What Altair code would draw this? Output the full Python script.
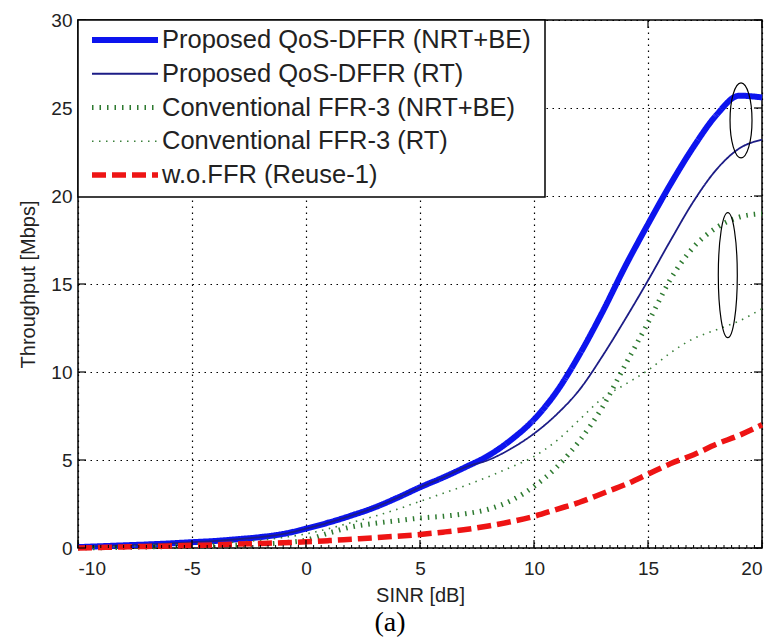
import altair as alt
import pandas as pd

# ---------------- data ----------------
SINR = list(range(-10, 21))

PROP_NRT = [0.05, 0.10, 0.15, 0.20, 0.26, 0.33, 0.40, 0.50, 0.62, 0.80,
            1.10, 1.45, 1.85, 2.30, 2.85, 3.45, 4.00, 4.60, 5.25, 6.15,
            7.30, 8.90, 11.0, 13.4, 16.0, 18.4, 20.7, 22.8, 24.6, 25.7, 25.6]
PROP_RT = [0.05, 0.10, 0.15, 0.20, 0.26, 0.33, 0.40, 0.50, 0.62, 0.80,
           1.10, 1.45, 1.85, 2.30, 2.85, 3.45, 4.00, 4.60, 5.00, 5.65,
           6.50, 7.60, 9.00, 10.9, 13.0, 15.2, 17.5, 19.7, 21.5, 22.7, 23.2]
CONV_NRT = [0.00, 0.02, 0.04, 0.06, 0.08, 0.10, 0.13, 0.17, 0.22, 0.30,
            0.45, 0.85, 1.20, 1.40, 1.55, 1.70, 1.80, 1.95, 2.20, 2.70,
            3.50, 4.60, 6.10, 8.00, 10.4, 12.8, 15.3, 17.1, 18.2, 18.8, 19.0]
CONV_RT = [0.02, 0.05, 0.08, 0.12, 0.16, 0.20, 0.26, 0.34, 0.44, 0.60,
           0.80, 1.10, 1.45, 1.80, 2.20, 2.65, 3.10, 3.55, 4.05, 4.60,
           5.20, 6.10, 7.30, 8.50, 9.30, 10.1, 11.1, 11.9, 12.4, 12.9, 13.6]
REUSE1 = [0.00, 0.03, 0.06, 0.09, 0.12, 0.15, 0.18, 0.22, 0.26, 0.30,
          0.35, 0.42, 0.50, 0.58, 0.67, 0.77, 0.90, 1.05, 1.25, 1.50,
          1.80, 2.20, 2.60, 3.10, 3.60, 4.20, 4.80, 5.30, 5.90, 6.40, 7.00]

SERIES = ["Proposed QoS-DFFR (NRT+BE)", "Proposed QoS-DFFR (RT)",
          "Conventional FFR-3 (NRT+BE)", "Conventional FFR-3 (RT)",
          "w.o.FFR (Reuse-1)"]
VALUES = [PROP_NRT, PROP_RT, CONV_NRT, CONV_RT, REUSE1]

COLORS = ["#0c14ee", "#1c1c86", "#2e7a30", "#3b803b", "#ee1414"]
WIDTHS = [6.0, 1.8, 5.0, 1.6, 5.5]
DASHES = [[1, 0], [1, 0], [1.5, 6], [1.5, 5.5], [14, 6]]

X_TICKS = [-10, -5, 0, 5, 10, 15, 20]
Y_TICKS = [0, 5, 10, 15, 20, 25, 30]
MINOR_X = [-10 + i / 3 for i in range(91)]

# annotation ellipses (centre in data units)
ELL_X = [19.08, 18.5]
ELL_Y = [24.3, 15.5]

# ---------------- tables ----------------
rows = []
for s, vals in zip(SERIES, VALUES):
    for x, v in zip(SINR, vals):
        rows.append({"series": s, "sinr": x, "thr": v})
df = pd.DataFrame(rows)

leg = pd.DataFrame({"series": SERIES,
                    "ly": [20 + 33.75 * i for i in range(len(SERIES))]})

xscale = alt.Scale(domain=[-10, 20], nice=False, zero=False)
yscale = alt.Scale(domain=[0, 30], nice=False, zero=False)

color = alt.Color("series:N", scale=alt.Scale(domain=SERIES, range=COLORS), legend=None)
dash = alt.StrokeDash("series:N", scale=alt.Scale(domain=SERIES, range=DASHES), legend=None)
width = alt.StrokeWidth("series:N",
                        scale=alt.Scale(type="ordinal", domain=SERIES, range=WIDTHS),
                        legend=None)

X = alt.X("sinr:Q", scale=xscale,
          axis=alt.Axis(values=X_TICKS, title="SINR [dB]", labelExpr="'' + datum.value",
                        labelPadding=11, titlePadding=7))
Y = alt.Y("thr:Q", scale=yscale,
          axis=alt.Axis(values=Y_TICKS, title="Throughput [Mbps]", labelPadding=6,
                        titlePadding=12))

lines = alt.Chart(df).mark_line(interpolate="monotone", strokeCap="butt").encode(
    x=X, y=Y, color=color, strokeDash=dash, strokeWidth=width,
    order=alt.Order("sinr:Q"))

ell1 = alt.Chart(pd.DataFrame({"sinr": [ELL_X[0]], "thr": [ELL_Y[0]]})).mark_point(
    shape="M 0 -1 A 0.293 1 0 1 1 0 1 A 0.293 1 0 1 1 0 -1 Z",
    size=5625, filled=False, stroke="black", strokeWidth=1.2, opacity=1
).encode(x=alt.X("sinr:Q", scale=xscale), y=alt.Y("thr:Q", scale=yscale))

ell2 = alt.Chart(pd.DataFrame({"sinr": [ELL_X[1]], "thr": [ELL_Y[1]]})).mark_point(
    shape="M 0 -1 A 0.152 1 0 1 1 0 1 A 0.152 1 0 1 1 0 -1 Z",
    size=15625, filled=False, stroke="black", strokeWidth=1.2, opacity=1
).encode(x=alt.X("sinr:Q", scale=xscale), y=alt.Y("thr:Q", scale=yscale))

tick_x = pd.DataFrame({"xv": X_TICKS})
tick_y = pd.DataFrame({"yv": Y_TICKS})
tick_m = pd.DataFrame({"xv": MINOR_X})

bottom_ticks = alt.Chart(tick_x).mark_rule(color="black", strokeWidth=1.2).encode(
    x=alt.X("xv:Q", scale=xscale), y=alt.value(528), y2=alt.value(520))
top_ticks = alt.Chart(tick_x).mark_rule(color="black", strokeWidth=1.2).encode(
    x=alt.X("xv:Q", scale=xscale), y=alt.value(0), y2=alt.value(8))
left_ticks = alt.Chart(tick_y).mark_rule(color="black", strokeWidth=1.2).encode(
    y=alt.Y("yv:Q", scale=yscale), x=alt.value(0), x2=alt.value(8))
right_ticks = alt.Chart(tick_y).mark_rule(color="black", strokeWidth=1.2).encode(
    y=alt.Y("yv:Q", scale=yscale), x=alt.value(684), x2=alt.value(676))
minor_ticks = alt.Chart(tick_m).mark_rule(color="black", strokeWidth=1).encode(
    x=alt.X("xv:Q", scale=xscale), y=alt.value(528), y2=alt.value(525))

box = alt.Chart(pd.DataFrame({"a": [0]})).mark_rect(
    fill="white", stroke="black", strokeWidth=1.5).encode(
    x=alt.value(0), x2=alt.value(467), y=alt.value(0), y2=alt.value(177))

leg_rules = alt.Chart(leg).mark_rule(strokeCap="butt").encode(
    x=alt.value(14), x2=alt.value(80),
    y=alt.Y("ly:Q", scale=None, axis=None),
    color=color, strokeDash=dash, strokeWidth=width)

leg_text = alt.Chart(leg).mark_text(
    align="left", baseline="middle", font="Liberation Sans", fontSize=25.5,
    color="#222222").encode(
    x=alt.value(84), y=alt.Y("ly:Q", scale=None, axis=None), text="series:N")

chart = alt.layer(
    lines, ell1, ell2, bottom_ticks, top_ticks, left_ticks, right_ticks, minor_ticks,
    box, leg_rules, leg_text
).properties(
    width=684, height=528,
    autosize=alt.AutoSizeParams(type="none"),
    padding={"left": 78, "top": 20, "right": 12, "bottom": 93},
    background="white",
    title=alt.TitleParams(text="(a)", orient="bottom", font="Liberation Serif",
                          fontSize=28, fontWeight="normal", color="black",
                          offset=4, dx=-30, anchor="middle"),
).configure_view(
    stroke="black", strokeWidth=1.5
).configure_axis(
    grid=True, gridColor="black", gridDash=[1.5, 4.5], gridWidth=1.2, gridOpacity=1,
    domain=False, ticks=False,
    labelFont="Liberation Sans", labelFontSize=19, labelColor="#222222",
    titleFont="Liberation Sans", titleFontSize=20, titleFontWeight="normal",
    titleColor="#222222"
)

chart.save("out.html", embed_options={"renderer": "svg", "actions": False})
